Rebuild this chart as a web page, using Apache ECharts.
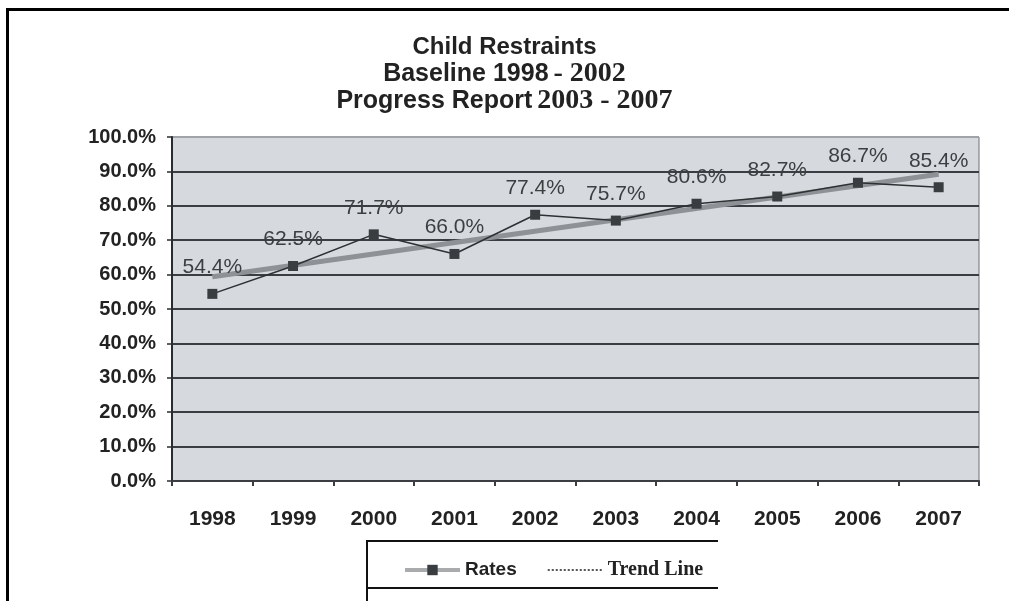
<!DOCTYPE html>
<html>
<head>
<meta charset="utf-8">
<script src="https://cdn.jsdelivr.net/npm/echarts@6/dist/echarts.min.js"></script>
<style>
html,body{margin:0;padding:0;background:#fff;}
#chart{width:1009px;height:601px;}
</style>
</head>
<body>
<div id="chart"></div>
<script>
var years = ['1998','1999','2000','2001','2002','2003','2004','2005','2006','2007'];
var rates = [54.4, 62.5, 71.7, 66.0, 77.4, 75.7, 80.6, 82.7, 86.7, 85.4];
// trend line end points (straight line)
var trendLine = [59.4, null, null, null, null, null, null, null, null, 89.2];
var yTicks = ['0.0%','10.0%','20.0%','30.0%','40.0%','50.0%','60.0%','70.0%','80.0%','90.0%','100.0%'];

var SANS = 'Liberation Sans, Arial, sans-serif';
var SERIF = 'Liberation Serif, Times New Roman, serif';

var chart = echarts.init(document.getElementById('chart'));
var splitColors = [];
for (var i = 0; i < yTicks.length; i++) splitColors.push(i === yTicks.length - 1 ? '#a0a3a7' : '#3a3d42');

chart.setOption({
  animation: false,
  backgroundColor: '#ffffff',
  title: [
    {text: '{b|Child Restraints}', left: 'center', top: 28,
     textStyle: {rich: {b: {fontFamily: SANS, fontWeight: 'bold', fontSize: 24, color: '#222', lineHeight: 28}}}},
    {text: '{b|Baseline 1998} {s|- 2002}', left: 'center', top: 55,
     textStyle: {rich: {b: {fontFamily: SANS, fontWeight: 'bold', fontSize: 25, color: '#222', lineHeight: 28},
                        s: {fontFamily: SERIF, fontSize: 28, color: '#222', lineHeight: 28}}}},
    {text: '{b|Progress Report} {s|2003 - 2007}', left: 'center', top: 82,
     textStyle: {rich: {b: {fontFamily: SANS, fontWeight: 'bold', fontSize: 25, color: '#222', lineHeight: 28},
                        s: {fontFamily: SERIF, fontSize: 28, color: '#222', lineHeight: 28}}}}
  ],
  grid: {left: 172, right: 30, top: 137, bottom: 120, show: true,
         backgroundColor: '#d6d9dd', borderColor: '#6f7276', borderWidth: 1},
  xAxis: {
    type: 'category', data: years, boundaryGap: true,
    axisLine: {lineStyle: {color: '#3a3d42', width: 2}},
    axisTick: {show: true, length: 5, lineStyle: {color: '#3a3d42', width: 2}},
    axisLabel: {margin: 28, fontFamily: SANS, fontWeight: 'bold', fontSize: 21, color: '#222'}
  },
  yAxis: {
    type: 'value', min: 0, max: 100, interval: 10,
    axisLine: {show: true, lineStyle: {color: '#2a2d30', width: 2}},
    axisTick: {show: true, length: 5, lineStyle: {color: '#2a2d30', width: 1.5}},
    splitLine: {show: true, lineStyle: {color: splitColors, width: 2}},
    axisLabel: {margin: 16, fontFamily: SANS, fontWeight: 'bold', fontSize: 20, color: '#222',
                formatter: function (v) { return yTicks[Math.round(v / 10)]; }}
  },
  legend: {
    left: 398, top: 555, itemWidth: 55, itemHeight: 13, itemGap: 30,
    data: [
      {name: 'Rates', itemStyle: {color: '#3a3d3f'}, lineStyle: {color: '#a9abad', width: 4}},
      {name: 'Trend Line', itemStyle: {color: 'rgba(0,0,0,0)', borderWidth: 0, opacity: 0},
       lineStyle: {color: '#555', width: 2, type: 'dotted'}}
    ],
    formatter: function (n) { return n === 'Rates' ? '{a|Rates}' : '{b|Trend Line}'; },
    textStyle: {rich: {
      a: {fontFamily: SANS, fontWeight: 'bold', fontSize: 19, color: '#222'},
      b: {fontFamily: SERIF, fontWeight: 'bold', fontSize: 20, color: '#222'}
    }}
  },
  series: [
    {name: 'Trend Line', type: 'line', data: trendLine, connectNulls: true, symbol: 'none', z: 2,
     lineStyle: {color: '#8e9195', width: 5}, itemStyle: {color: '#8e9195'}},
    {name: 'Rates', type: 'line', data: rates, z: 3, symbol: 'rect', symbolSize: 10,
     lineStyle: {color: '#2e3133', width: 1.5}, itemStyle: {color: '#3a3d3f'},
     label: {show: true, position: 'top', distance: 11, fontFamily: SANS, fontSize: 21, color: '#3c3f42',
             formatter: function (p) { return p.value.toFixed(1) + '%'; }}}
  ],
  graphic: [
    {type: 'line', shape: {x1: 6, y1: 9.5, x2: 1009, y2: 9.5}, style: {stroke: '#000', lineWidth: 3}},
    {type: 'line', shape: {x1: 7.5, y1: 8, x2: 7.5, y2: 601}, style: {stroke: '#000', lineWidth: 3}},
    {type: 'line', shape: {x1: 367, y1: 541, x2: 718, y2: 541}, style: {stroke: '#111', lineWidth: 2}},
    {type: 'line', shape: {x1: 367, y1: 588, x2: 718, y2: 588}, style: {stroke: '#111', lineWidth: 2}},
    {type: 'line', shape: {x1: 367, y1: 540, x2: 367, y2: 601}, style: {stroke: '#111', lineWidth: 2}}
  ]
});
</script>
</body>
</html>
